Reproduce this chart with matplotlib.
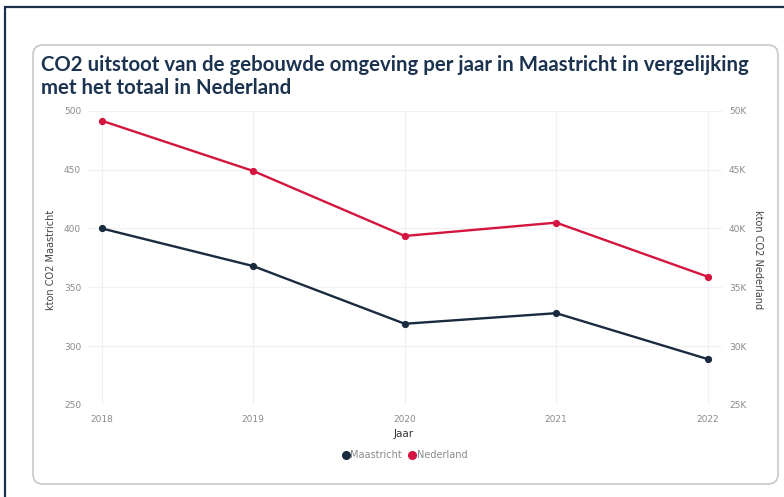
import matplotlib
matplotlib.use("Agg")
import matplotlib.pyplot as plt
from matplotlib.patches import FancyBboxPatch, Rectangle
from matplotlib.transforms import IdentityTransform
from matplotlib.lines import Line2D
from matplotlib.ticker import FuncFormatter

years = [2018, 2019, 2020, 2021, 2022]
maastricht = [400, 368, 319, 328, 289]
nederland = [49150, 44880, 39360, 40490, 35900]
left_ticks = [250, 300, 350, 400, 450, 500]
right_ticks = [25000, 30000, 35000, 40000, 45000, 50000]
title = "CO2 uitstoot van de gebouwde omgeving per jaar in Maastricht in vergelijking\nmet het totaal in Nederland"

W, H = 784, 497
DPI = 100
navy = "#1b2b3f"
red = "#d4153f"
gray = "#8a8a8a"

plt.rcParams['font.family'] = ['DejaVu Sans']
fig = plt.figure(figsize=(W / DPI, H / DPI), dpi=DPI)
fig.patch.set_facecolor("white")

# outer dark border
fig.patches.append(Rectangle((5, -20), 900, H - 7 + 20, fill=False, edgecolor="#1e2f4c",
                             lw=1.6, transform=IdentityTransform(), zorder=-2))
# inner rounded box
fig.patches.append(FancyBboxPatch((33, H - 484), 745, 484 - 45,
                                  boxstyle="round,pad=0,rounding_size=10",
                                  facecolor="none", edgecolor="#c8c8c8", lw=1.2,
                                  transform=IdentityTransform(), zorder=-1))

def fx(px):
    return px / W

def fy(py):
    return 1 - py / H

ax_l, ax_r = 88, 722
ax_t, ax_b = 110.7, 405
ax = fig.add_axes([fx(ax_l), fy(ax_b), fx(ax_r - ax_l), (ax_b - ax_t) / H])
ax.set_facecolor("none")
ppy = (707.7 - 101.7) / 4
ax.set_xlim(2018 - (101.7 - ax_l) / ppy, 2022 + (ax_r - 707.7) / ppy)
ax.set_ylim(250, 500)
ax.plot(years, maastricht, color=navy, lw=1.7, marker="o", ms=4.2, zorder=3)
ax.set_yticks(left_ticks)
ax.set_xticks(years)
ax.set_xticklabels([str(y) for y in years])
for s in ax.spines.values():
    s.set_visible(False)
ax.tick_params(axis="both", length=0, labelsize=6.5, labelcolor=gray)
ax.tick_params(axis="x", pad=7)
ax.tick_params(axis="y", pad=5)
ax.grid(True, color="#f0f0f0", lw=0.8)
ax.set_axisbelow(True)

ax2 = ax.twinx()
ax2.set_ylim(25000, 50000)
ax2.plot(years, nederland, color=red, lw=1.7, marker="o", ms=4.2, zorder=3)
ax2.set_yticks(right_ticks)
ax2.yaxis.set_major_formatter(FuncFormatter(lambda v, p: f"{int(v/1000)}K"))
for s in ax2.spines.values():
    s.set_visible(False)
ax2.tick_params(axis="y", length=0, labelsize=6.5, labelcolor=gray, pad=5)

fig.text(fx(51), fy(260), "kton CO2 Maastricht", rotation=90, ha="center", va="center",
         fontsize=7, color="#444444")
fig.text(fx(758), fy(260), "kton CO2 Nederland", rotation=270, ha="center", va="center",
         fontsize=7, color="#444444")
fig.text(fx(404), fy(434), "Jaar", ha="center", va="center", fontsize=7.5, color="#333333")

fig.text(fx(41), fy(55), title, ha="left", va="top", fontsize=14.7, fontweight="bold",
         color="#1c3350", linespacing=1.2, family=["Lato", "DejaVu Sans"])

handles = [Line2D([], [], ls="none", marker="o", ms=5.5, color=navy),
           Line2D([], [], ls="none", marker="o", ms=5.5, color=red)]
fig.legend(handles, ["Maastricht", "Nederland"], loc="center", bbox_to_anchor=(fx(404), fy(455)),
           ncol=2, frameon=False, fontsize=7, labelcolor=gray, handletextpad=0.0,
           columnspacing=0.5, handlelength=1.0)

fig.savefig("out.png", dpi=DPI)
